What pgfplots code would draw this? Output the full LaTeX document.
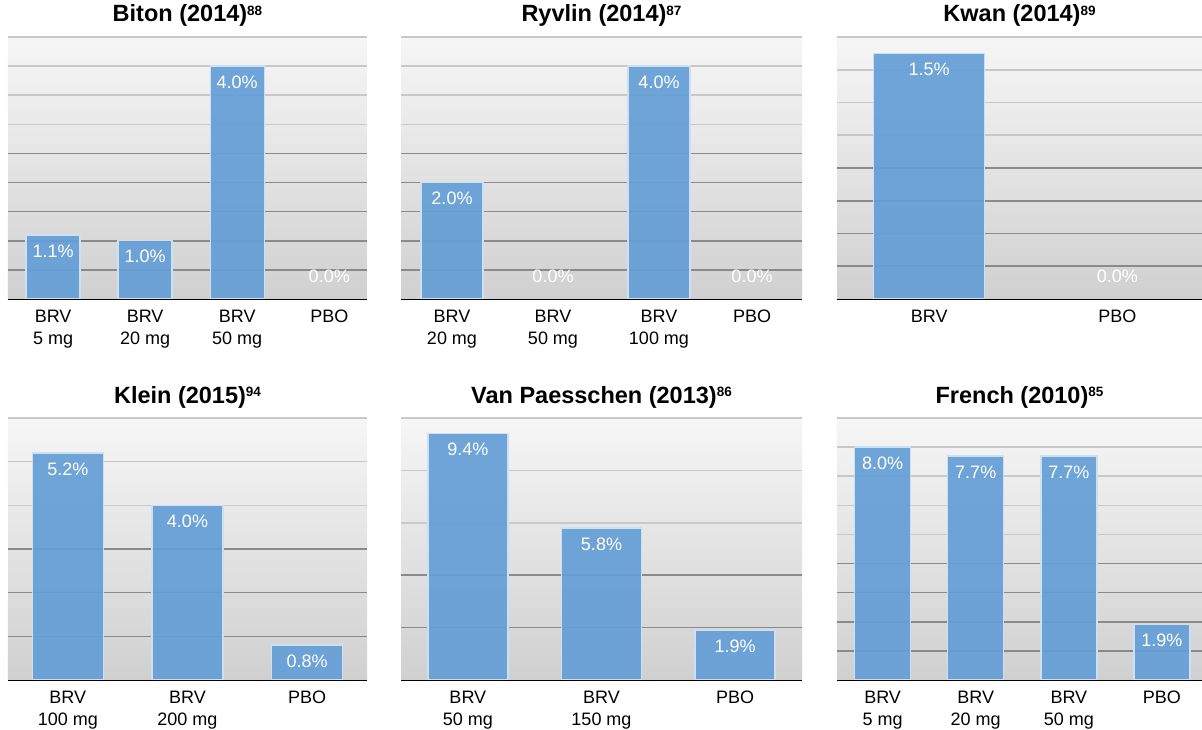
\documentclass[border=0pt]{standalone}
\usepackage{pgfplots}
\pgfplotsset{compat=1.18}
\usepackage{fontspec}
\setmainfont{Liberation Sans}
\definecolor{barblue}{RGB}{100,158,214}
\definecolor{baredge}{RGB}{205,224,242}
\definecolor{bgtop}{RGB}{246,246,246}
\definecolor{bgbot}{RGB}{208,208,208}
\definecolor{gridlight}{RGB}{200,200,200}
\definecolor{griddark}{RGB}{138,138,138}
\definecolor{baseln}{RGB}{64,64,64}
\newcommand\lab{\fontsize{18}{22}\selectfont}
\newcommand\ttl{\bfseries\fontsize{23.5}{26}\selectfont}
\newcommand\sups[1]{\raisebox{6.8pt}{\bfseries\fontsize{13.5}{13.5}\selectfont #1}}
\pgfplotsset{
  panel/.style={
    scale only axis, anchor=south west, height=262pt, ymin=0,
    axis line style={draw=none}, major tick length=0pt,
    tick style={draw=none},
    yticklabels={}, extra y tick labels={},
    ymajorgrids,
    major grid style={draw=gridlight, line width=1.6pt},
    extra y tick style={major grid style={draw=griddark, line width=1.6pt}},
    axis background/.style={shade, top color=bgtop, bottom color=bgbot},
    xticklabel style={align=center, font=\lab, text=black, inner sep=0pt, anchor=north, yshift=-11pt},
    title style={font=\ttl, at={(0.5,1)}, anchor=base, yshift=9pt},
    clip=false,
  },
  mybar/.style={ybar, bar width=#1, fill=barblue, fill opacity=0.92, draw=baredge, line width=1.4pt,
    nodes near coords, point meta=explicit symbolic,
    every node near coord/.append style={font=\lab, text=white, text opacity=1, anchor=center, yshift=-16pt}},
  zerolab/.style={ybar, bar width=2pt, draw=none, fill=none,
    nodes near coords, point meta=explicit symbolic,
    every node near coord/.append style={font=\lab, text=white, anchor=center, yshift=23pt}},
  baseline/.style={draw=baseln, line width=4pt},
}
\begin{document}
\begin{tikzpicture}
\useasboundingbox (0,0) rectangle (1202pt,729pt);
% ---------- Biton
\begin{axis}[panel, at={(8pt,430pt)}, width=359pt,
  xmin=-0.49, xmax=3.41, ymax=4.5,
  ytick={3,3.5,4,4.5}, extra y ticks={0.5,1,1.5,2,2.5},
  xtick={0,1,2,3}, xticklabels={{BRV\\5 mg},{BRV\\20 mg},{BRV\\50 mg},{PBO}},
  title={Biton (2014)\sups{88}}]
\addplot[mybar=54pt] coordinates {(0,1.1)[1.1\%] (1,1.0)[1.0\%] (2,4.0)[4.0\%]};
\addplot[zerolab] coordinates {(3,0)[0.0\%]};
\draw[baseline] (rel axis cs:0,0) -- (rel axis cs:1,0);
\end{axis}
% ---------- Ryvlin
\begin{axis}[panel, at={(401pt,430pt)}, width=401pt,
  xmin=-0.51, xmax=3.5, ymax=4.5,
  ytick={3,3.5,4,4.5}, extra y ticks={0.5,1,1.5,2,2.5},
  xtick={0,1.01,2.07,3}, xticklabels={{BRV\\20 mg},{BRV\\50 mg},{BRV\\100 mg},{PBO}},
  title={Ryvlin (2014)\sups{87}}]
\addplot[mybar=62pt] coordinates {(0,2.0)[2.0\%] (2.07,4.0)[4.0\%]};
\addplot[zerolab] coordinates {(1.01,0)[0.0\%] (3,0)[0.0\%]};
\draw[baseline] (rel axis cs:0,0) -- (rel axis cs:1,0);
\end{axis}
% ---------- Kwan
\begin{axis}[panel, at={(837pt,430pt)}, width=365pt,
  xmin=-0.49, xmax=1.45, ymax=1.6,
  ytick={1,1.2,1.4,1.6}, extra y ticks={0.2,0.4,0.6,0.8},
  xtick={0,1}, xticklabels={{BRV},{PBO}},
  title={Kwan (2014)\sups{89}}]
\addplot[mybar=111pt] coordinates {(0,1.5)[1.5\%]};
\addplot[zerolab] coordinates {(1,0)[0.0\%]};
\draw[baseline] (rel axis cs:0,0) -- (rel axis cs:1,0);
\end{axis}
% ---------- Klein
\begin{axis}[panel, at={(8pt,49pt)}, width=359pt,
  xmin=-0.5, xmax=2.5, ymax=6,
  ytick={4,5,6}, extra y ticks={1,2,3},
  xtick={0,1,2}, xticklabels={{BRV\\100 mg},{BRV\\200 mg},{PBO}},
  title={Klein (2015)\sups{94}}]
\addplot[mybar=71pt] coordinates {(0,5.2)[5.2\%] (1,4.0)[4.0\%] (2,0.8)[0.8\%]};
\draw[baseline] (rel axis cs:0,0) -- (rel axis cs:1,0);
\end{axis}
% ---------- Van Paesschen
\begin{axis}[panel, at={(401pt,49pt)}, width=401pt,
  xmin=-0.5, xmax=2.5, ymax=10,
  ytick={6,8,10}, extra y ticks={2,4},
  xtick={0,1,2}, xticklabels={{BRV\\50 mg},{BRV\\150 mg},{PBO}},
  title={Van Paesschen (2013)\sups{86}}]
\addplot[mybar=80pt] coordinates {(0,9.4)[9.4\%] (1,5.8)[5.8\%] (2,1.9)[1.9\%]};
\draw[baseline] (rel axis cs:0,0) -- (rel axis cs:1,0);
\end{axis}
% ---------- French
\begin{axis}[panel, at={(837pt,49pt)}, width=365pt,
  xmin=-0.49, xmax=3.43, ymax=9,
  ytick={5,6,7,8,9}, extra y ticks={1,2,3,4},
  xtick={0,1,2,3}, xticklabels={{BRV\\5 mg},{BRV\\20 mg},{BRV\\50 mg},{PBO}},
  title={French (2010)\sups{85}}]
\addplot[mybar=56pt] coordinates {(0,8.0)[8.0\%] (1,7.7)[7.7\%] (2,7.7)[7.7\%] (3,1.9)[1.9\%]};
\draw[baseline] (rel axis cs:0,0) -- (rel axis cs:1,0);
\end{axis}
\end{tikzpicture}
\end{document}
